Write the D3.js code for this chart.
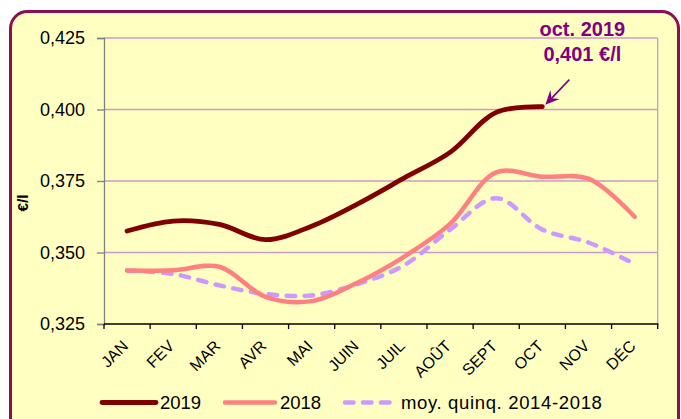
<!DOCTYPE html>
<html><head><meta charset="utf-8">
<script src="https://cdn.jsdelivr.net/npm/d3@7"></script>
<style>
html,body{margin:0;padding:0;background:#fff;}
svg{display:block;font-family:Arial,"Liberation Sans",sans-serif;}
</style></head>
<body>
<svg id="chart" width="681" height="419"></svg>
<script>
const months = ["JAN","FEV","MAR","AVR","MAI","JUIN","JUIL","AOÛT","SEPT","OCT","NOV","DÉC"];
const values2019 = [0.3575,0.3610,0.3598,0.3545,0.3592,0.3670,0.3760,0.3850,0.3990,0.4010];
const values2018 = [0.3437,0.3438,0.3450,0.3345,0.3330,0.3395,0.3485,0.3600,0.3780,0.3765,0.3758,0.3625];
const valuesMoy  = [0.3437,0.3425,0.3385,0.3355,0.3350,0.3390,0.3455,0.3580,0.3690,0.3580,0.3535,0.3460];
const yTicks = [0.325,0.350,0.375,0.400,0.425];
const seriesNames = ["2019","2018","moy. quinq. 2014-2018"];
const annotationLines = ["oct. 2019","0,401 €/l"];

const svg = d3.select("#chart");
const W = 681, H = 419;
const L = 104, R = 657.7, T = 38, B = 324;

// frame
svg.append("rect").attr("x",10.5).attr("y",11.5).attr("width",668).attr("height",425)
  .attr("rx",17).attr("fill","#FFFFC2").attr("stroke","#8E0F50").attr("stroke-width",3);

const x = d3.scaleBand().domain(months).range([L,R]).padding(0);
const y = d3.scaleLinear().domain([0.325,0.425]).range([B,T]);
const cx = d => x(d) + x.bandwidth()/2;
const fmt = v => d3.format(".3f")(v).replace(".",",");

// grid
svg.append("g").selectAll("line").data(yTicks.filter(v=>v>0.325)).join("line")
  .attr("x1",L).attr("x2",R).attr("y1",d=>y(d)).attr("y2",d=>y(d))
  .attr("stroke","#CC99CC").attr("stroke-width",1.3);
svg.append("line").attr("x1",R).attr("x2",R).attr("y1",T).attr("y2",B)
  .attr("stroke","#CC99CC").attr("stroke-width",1.3);

// y axis
const yAxis = svg.append("g").attr("transform",`translate(${L},0)`)
  .call(d3.axisLeft(y).tickValues(yTicks).tickSize(7).tickPadding(12).tickFormat(fmt));
yAxis.select(".domain").attr("stroke","#808080").attr("stroke-width",1.3);
yAxis.selectAll(".tick line").attr("stroke","#808080").attr("stroke-width",1.3);
yAxis.selectAll("text").attr("font-size",18).attr("fill","#000")
  .attr("font-family","Arial,'Liberation Sans',sans-serif");

// x axis
const xg = svg.append("g");
xg.append("line").attr("x1",L).attr("x2",R+0.7).attr("y1",B).attr("y2",B)
  .attr("stroke","#000").attr("stroke-width",1.3);
const bounds = months.map(m=>x(m)).concat([x(months[months.length-1])+x.bandwidth()]);
xg.selectAll("line.tk").data(bounds).join("line").attr("class","tk")
  .attr("x1",d=>d).attr("x2",d=>d).attr("y1",B).attr("y2",B+5)
  .attr("stroke","#000").attr("stroke-width",1.3);
xg.selectAll("text").data(months).join("text")
  .attr("transform",d=>`translate(${cx(d)+2},${B+23}) rotate(-45)`)
  .attr("text-anchor","end").attr("font-size",16).attr("fill","#000").text(d=>d);

// y title
svg.append("text").attr("transform",`translate(28,203) rotate(-90)`)
  .attr("text-anchor","middle").attr("font-size",15.5).attr("font-weight","bold").text("€/l");

// lines
const line = d3.line().x((d,i)=>cx(months[i])).y(d=>y(d)).curve(d3.curveCatmullRom.alpha(0.5));
svg.append("path").datum(valuesMoy).attr("d",line).attr("fill","none")
  .attr("stroke","#CC99FF").attr("stroke-width",4.5).attr("stroke-dasharray","8.5,9.5").attr("stroke-linecap","round");
svg.append("path").datum(values2018).attr("d",line).attr("fill","none")
  .attr("stroke","#FF8080").attr("stroke-width",4.5).attr("stroke-linecap","round");
svg.append("path").datum(values2019).attr("d",line).attr("fill","none")
  .attr("stroke","#800000").attr("stroke-width",4.8).attr("stroke-linecap","round");

// annotation
const last = values2019.length-1;
const px = cx(months[last]), py = y(values2019[last]);
const tipX = px+3, tipY = py-2, tailX = px+27, tailY = py-27;
svg.append("line").attr("x1",tailX).attr("y1",tailY).attr("x2",tipX+5).attr("y2",tipY-5)
  .attr("stroke","#800080").attr("stroke-width",1.6);
{
  const ang = Math.atan2(tipY-tailY, tipX-tailX);
  const len = 14, wid = 6.5, notch = 9;
  const bx = tipX - len*Math.cos(ang), by = tipY - len*Math.sin(ang);
  const nx = tipX - notch*Math.cos(ang), ny = tipY - notch*Math.sin(ang);
  const ox = -Math.sin(ang)*wid, oy = Math.cos(ang)*wid;
  svg.append("path").attr("d",`M${tipX},${tipY}L${bx+ox},${by+oy}L${nx},${ny}L${bx-ox},${by-oy}Z`)
    .attr("fill","#800080");
}
svg.append("g").selectAll("text").data(annotationLines).join("text")
  .attr("x",px+40).attr("y",(d,i)=>py-71+i*25.7).attr("text-anchor","middle")
  .attr("font-size",20).attr("font-weight","bold").attr("fill","#800080").text(d=>d);

// legend
const legY = 402.5;
const leg = [
  {name:seriesNames[0], x1:102, x2:156, tx:160, color:"#800000", dash:null, w:4.8, ls:0},
  {name:seriesNames[1], x1:225, x2:275, tx:280, color:"#FF8080", dash:null, w:4.5, ls:0},
  {name:seriesNames[2], x1:345, x2:392, tx:401, color:"#CC99FF", dash:"8.5,9.5", w:4.5, ls:0.65}
];
const lg = svg.append("g").selectAll("g").data(leg).join("g");
lg.append("line").attr("x1",d=>d.x1).attr("x2",d=>d.x2).attr("y1",legY).attr("y2",legY)
  .attr("stroke",d=>d.color).attr("stroke-width",d=>d.w).attr("stroke-linecap","round")
  .attr("stroke-dasharray",d=>d.dash);
lg.append("text").attr("x",d=>d.tx).attr("y",legY+6.5).attr("font-size",18.5)
  .attr("letter-spacing",d=>d.ls).attr("fill","#000").text(d=>d.name);
</script>
</body></html>
